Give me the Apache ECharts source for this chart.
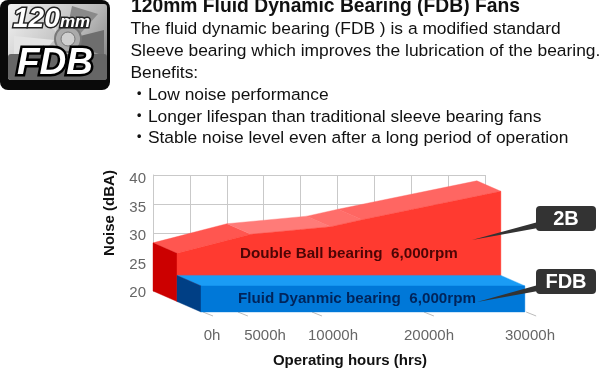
<!DOCTYPE html>
<html><head><meta charset="utf-8"><style>html,body{margin:0;padding:0;background:#fff}#c{width:600px;height:369px}</style>
<script src="https://cdn.jsdelivr.net/npm/echarts@6/dist/echarts.min.js"></script></head><body><div id="c"></div>
<script>
const titleText = '120mm Fluid Dynamic Bearing (FDB) Fans';
const bodyLines = [
  'The fluid dynamic bearing (FDB ) is a modified standard',
  'Sleeve bearing which improves the lubrication of the bearing.',
  'Benefits:',
  '・Low noise performance',
  '・Longer lifespan than traditional sleeve bearing fans',
  '・Stable noise level even after a long period of operation'
];
const hoursLabels = ['0h','5000h','10000h','20000h','30000h'];
const hoursLabelAnchors = [1019,5928,12226,21117,30472];
const hoursTicks = [185,3417,10278,20648,30120];
const redHours = [0,6850,14250,17150,30000];
const redNoise = [28.3,31.6,32.9,34.1,39.0];
const blueHours = [0,30000];
const blueNoise = [24.5,24.5];
const noiseTicks = [20,25,30,35,40];

const FONT = '"Liberation Sans", Arial, sans-serif';
const DX = 24, DY = 10.5;
const xMax = 30753;

const redTopColors = ['#ff5650','#ff7b78','#ff6e6a','#ff6662'];

function block(points, depth, colors){
  return function(params, api){
    const i = params.dataIndex;
    const off = d => (p => [p[0] + DX*d, p[1] + DY*d]);
    const cur = api.coord([api.value(0), api.value(1)]);
    const base = api.coord([api.value(0), noiseTicks[0]]);
    const children = [];
    const poly = (pts, fill) => children.push({type:'polygon', shape:{points:pts}, style:{fill, stroke:fill, lineWidth:0.4}});
    const b = off(depth), f = off(depth+1);
    if (i < points.length-1) {
      const nx = api.coord(points[i+1]);
      poly([b(cur), b(nx), f(nx), f(cur)], colors.top[i % colors.top.length]);
    }
    if (i === points.length-1) {
      const first = api.coord(points[0]);
      const firstBase = api.coord([points[0][0], noiseTicks[0]]);
      poly([b(first), f(first), f(firstBase), b(firstBase)], colors.side);
      poly([...points.map(p => f(api.coord(p))), f(base), f(firstBase)], colors.front);
    }
    return {type:'group', children};
  };
}
const redPts = redHours.map((h,i)=>[h,redNoise[i]]);
const bluePts = blueHours.map((h,i)=>[h,blueNoise[i]]);

const body = bodyLines.map((t,i)=>({type:'text', x:130.5, y:[21,43,65,87,109,130][i],
  style:{text:t, fill:'#111', font:'17.4px "Liberation Sans","Noto Sans CJK JP",sans-serif'}}));

const icon = {type:'group', children:[
  {type:'rect', shape:{x:0,y:0,width:110,height:90,r:8}, style:{fill:'#0a0a0a'}},
  {type:'rect', shape:{x:8,y:4,width:99,height:76,r:3}, style:{fill:{type:'linear',x:0,y:0,x2:1,y2:1,colorStops:[{offset:0,color:'#f4f4f4'},{offset:0.6,color:'#b8b8b8'},{offset:1,color:'#777'}]}}},
  {type:'polygon', shape:{points:[[66,34],[72,6],[98,14],[80,34]]}, style:{fill:'#8a8a8a'}},
  {type:'polygon', shape:{points:[[80,36],[104,30],[104,56],[78,46]]}, style:{fill:'#6e6e6e'}},
  {type:'polygon', shape:{points:[[56,32],[30,6],[58,6]]}, style:{fill:'#d8d8d8'}},
  {type:'polygon', shape:{points:[[54,40],[14,36],[14,54],[44,52]]}, style:{fill:'#e4e4e4'}},
  {type:'rect', shape:{x:8,y:54,width:99,height:26,r:3}, style:{fill:'#666'}},
  {type:'circle', shape:{cx:68,cy:39,r:13}, style:{fill:'#aaa',stroke:'#777',lineWidth:2}},
  {type:'circle', shape:{cx:68,cy:39,r:7}, style:{fill:'#cfcfcf',stroke:'#777',lineWidth:1}},
  {type:'text', x:13, y:5, style:{text:'120', fill:'#fff', stroke:'#222', lineWidth:3, font:'italic bold 28px '+FONT}},
  {type:'text', x:60, y:14, style:{text:'mm', fill:'#fff', stroke:'#222', lineWidth:3, font:'italic bold 17px '+FONT}},
  {type:'text', x:17, y:45, style:{text:'FDB', fill:'#fff', stroke:'#000', lineWidth:5, font:'italic bold 37px '+FONT}}
]};

function callout(label, top, tip, baseY){
  return {type:'group', children:[
    {type:'polygon', z:30, shape:{points:[tip,[538,baseY[0]],[538,baseY[1]]]}, style:{fill:'#333'}},
    {type:'rect', z:30, shape:{x:536,y:top,width:60,height:25,r:4}, style:{fill:'#333'}},
    {type:'text', z:31, x:566, y:top+13, style:{text:label, fill:'#fff', align:'center', verticalAlign:'middle', font:'bold 20px '+FONT}}
  ]};
}

const option = {
  animation:false,
  title:{text:titleText, left:131, top:-3, padding:0, textStyle:{color:'#111', fontFamily:FONT, fontWeight:'bold', fontSize:19.3}},
  grid:[
    {left:153, width:332, top:175, height:116},
    {left:201, width:332, top:175, height:138},
    {left:153, width:332, top:179, height:114}
  ],
  xAxis:[
    {type:'value', gridIndex:0, min:0, max:xMax, interval:xMax/9,
      axisLine:{show:false}, axisTick:{show:false}, axisLabel:{show:false},
      splitLine:{show:true, lineStyle:{color:'#c9c9c9', width:1}}},
    {type:'value', gridIndex:1, min:0, max:xMax,
      name:'Operating hours (hrs)', nameLocation:'middle', nameGap:51,
      nameTextStyle:{color:'#111', fontWeight:'bold', fontSize:15, fontFamily:FONT, padding:[0,34,0,0]},
      axisLine:{show:false}, axisTick:{show:false}, splitLine:{show:false},
      axisLabel:{customValues:hoursLabelAnchors, color:'#666', fontSize:15, fontFamily:FONT, margin:26,
        hideOverlap:false, showMinLabel:true, showMaxLabel:true,
        formatter:(v)=>hoursLabels[hoursLabelAnchors.indexOf(v)]}},
    {type:'value', gridIndex:2, min:0, max:xMax, show:false, splitLine:{show:false}}
  ],
  yAxis:[
    {type:'value', gridIndex:0, min:20, max:40, interval:5,
      axisLine:{show:true, lineStyle:{color:'#c9c9c9'}}, axisTick:{show:false},
      axisLabel:{show:false},
      splitLine:{show:true, lineStyle:{color:'#c9c9c9', width:1}}},
    {type:'value', gridIndex:1, min:20, max:40, show:false, splitLine:{show:false}},
    {type:'value', gridIndex:2, min:20, max:40, interval:5,
      name:'Noise (dBA)', nameLocation:'middle', nameGap:36,
      nameTextStyle:{color:'#111', fontWeight:'bold', fontSize:15, fontFamily:FONT, padding:[0,0,0,46]},
      axisLine:{show:false}, axisTick:{show:false}, splitLine:{show:false},
      axisLabel:{color:'#666', fontSize:15, fontFamily:FONT, margin:7}}
  ],
  series:[
    {type:'custom', name:'Double Ball bearing', xAxisIndex:0, yAxisIndex:0, data:redPts, clip:false, z:3,
      renderItem:block(redPts,0,{side:'#cc0000', front:'#ff3a30', top:redTopColors}), encode:{x:0,y:1}},
    {type:'custom', name:'Fluid Dynamic bearing', xAxisIndex:0, yAxisIndex:0, data:bluePts, clip:false, z:4,
      renderItem:block(bluePts,1,{side:'#003f85', front:'#0078d8', top:['#1a9cf5']}), encode:{x:0,y:1}},
    {type:'custom', name:'ticks', xAxisIndex:0, yAxisIndex:0, data:hoursTicks.map(h=>[h,20]), clip:false, z:2,
      renderItem:(p,api)=>{const c=api.coord([api.value(0),20]);
        return {type:'line', shape:{x1:c[0]+2*DX,y1:c[1]+2*DY,x2:c[0]+2*DX+10,y2:c[1]+2*DY+4}, style:{stroke:'#bbb',lineWidth:1}};}, encode:{x:0,y:1}}
  ],
  graphic:[
    icon, ...body,
    {type:'text', x:240, y:246, z:20, style:{text:'Double Ball bearing  6,000rpm', fill:'#4d0505', font:'bold 15.2px '+FONT}},
    {type:'text', x:238, y:291, z:20, style:{text:'Fluid Dyanmic bearing  6,000rpm', fill:'#00245a', font:'bold 15.2px '+FONT}},
    callout('2B',206,[472,240],[222,228]),
    callout('FDB',269,[477,302],[285,291])
  ]
};
echarts.init(document.getElementById('c'),null,{renderer:'canvas'}).setOption(option);
</script></body></html>
